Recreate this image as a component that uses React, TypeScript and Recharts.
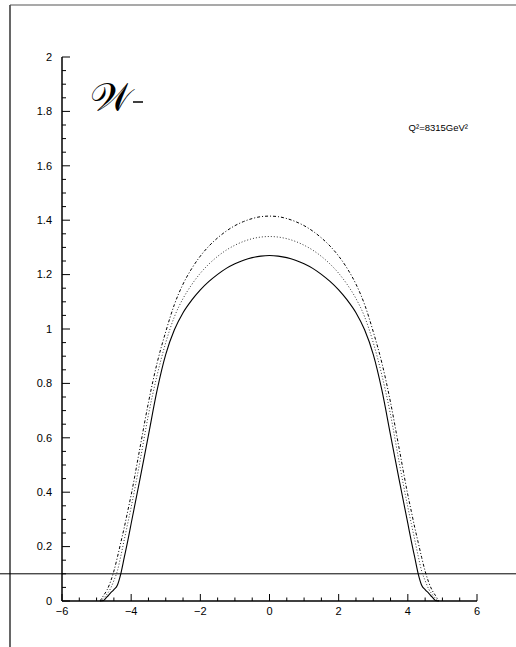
import { LineChart, Line, XAxis, YAxis, ReferenceLine } from "recharts"

// rapidity grid
const rapidity = [
  -4.9, -4.8, -4.7, -4.6, -4.5, -4.4, -4.3, -4.2, -4.1, -4, -3.75, -3.5, -3.25,
  -3, -2.75, -2.5, -2.25, -2, -1.75, -1.5, -1.25, -1, -0.75, -0.5, -0.25, 0,
  0.25, 0.5, 0.75, 1, 1.25, 1.5, 1.75, 2, 2.25, 2.5, 2.75, 3, 3.25, 3.5, 3.75,
  4, 4.1, 4.2, 4.3, 4.4, 4.5, 4.6, 4.7, 4.8, 4.9,
]

const solid = [
  0, 0.002, 0.015, 0.029, 0.042, 0.058, 0.1, 0.16, 0.22, 0.285, 0.445, 0.61, 0.775,
  0.907, 0.997, 1.06, 1.106, 1.144, 1.175, 1.201, 1.223, 1.24, 1.253, 1.2625, 1.268, 1.27,
  1.268, 1.2625, 1.253, 1.24, 1.223, 1.201, 1.175, 1.144, 1.106, 1.06, 0.997, 0.907, 0.775, 0.61, 0.445,
  0.285, 0.22, 0.16, 0.1, 0.058, 0.042, 0.029, 0.015, 0.002, 0,
]

const dotted = [
  0, 0.01, 0.025, 0.045, 0.075, 0.11, 0.165, 0.225, 0.285, 0.345, 0.51, 0.685, 0.83,
  0.95, 1.045, 1.112, 1.163, 1.205, 1.239, 1.267, 1.29, 1.308, 1.322, 1.332, 1.338, 1.34,
  1.338, 1.332, 1.322, 1.308, 1.29, 1.267, 1.239, 1.205, 1.163, 1.112, 1.045, 0.95, 0.83, 0.685, 0.51,
  0.345, 0.285, 0.225, 0.165, 0.11, 0.075, 0.045, 0.025, 0.01, 0,
]

const dashDot = [
  0, 0.02, 0.04, 0.07, 0.11, 0.16, 0.215, 0.27, 0.33, 0.39, 0.56, 0.73, 0.875,
  0.99, 1.09, 1.165, 1.222, 1.268, 1.305, 1.335, 1.36, 1.38, 1.395, 1.406, 1.413, 1.415,
  1.413, 1.406, 1.395, 1.38, 1.36, 1.335, 1.305, 1.268, 1.222, 1.165, 1.09, 0.99, 0.875, 0.73, 0.56,
  0.39, 0.33, 0.27, 0.215, 0.16, 0.11, 0.07, 0.04, 0.02, 0,
]

const xTicks = [
  -6, -5.5, -5, -4.5, -4, -3.5, -3, -2.5, -2, -1.5, -1, -0.5, 0, 0.5, 1, 1.5, 2,
  2.5, 3, 3.5, 4, 4.5, 5, 5.5, 6,
]

const yTicks = [
  0, 0.05, 0.1, 0.15, 0.2, 0.25, 0.3, 0.35, 0.4, 0.45, 0.5, 0.55, 0.6, 0.65, 0.7,
  0.75, 0.8, 0.85, 0.9, 0.95, 1, 1.05, 1.1, 1.15, 1.2, 1.25, 1.3, 1.35, 1.4, 1.45,
  1.5, 1.55, 1.6, 1.65, 1.7, 1.75, 1.8, 1.85, 1.9, 1.95, 2,
]

const cutLevel = 0.1
const processLabel = "\u{1D4B2}"
const scaleLabel = "Q²=8315GeV²"

const data = rapidity.map((y, i) => ({
  y,
  solid: solid[i],
  dotted: dotted[i],
  dashDot: dashDot[i],
}))

const font = "'Liberation Sans', Arial, Helvetica, sans-serif"

const isMult = (v: number, step: number) => Math.abs(v / step - Math.round(v / step)) < 1e-6

function XTick(props: any) {
  const { x, y, payload } = props
  const v = payload.value
  const major = isMult(v, 2)
  return (
    <g>
      <line x1={x} x2={x} y1={y} y2={y - (major ? 7 : 3.5)} stroke="#000" />
      {major && (
        <text x={x} y={y + 13.5} textAnchor="middle" fontSize={11} fontFamily={font} fill="#000">
          {v < 0 ? "\u2212" + Math.abs(v) : String(v)}
        </text>
      )}
    </g>
  )
}

function YTick(props: any) {
  const { x, y, payload } = props
  const v = payload.value
  const major = isMult(v, 0.2)
  const ax = x + 10
  return (
    <g>
      <line x1={ax} x2={ax + (major ? 8 : 4)} y1={y} y2={y} stroke="#000" />
      {major && (
        <text x={x} y={y + 3.8} textAnchor="end" fontSize={11} fontFamily={font} fill="#000">
          {String(Math.round(v * 10) / 10)}
        </text>
      )}
    </g>
  )
}

export default function App() {
  return (
    <div style={{ position: "absolute", left: 0, top: 0, width: 516, height: 647, background: "#fff" }}>
      <LineChart
        width={516}
        height={647}
        data={data}
        margin={{ top: 57, right: 39, bottom: 16, left: 0 }}
      >
        <XAxis
          dataKey="y"
          type="number"
          domain={[-6, 6]}
          ticks={xTicks}
          interval={0}
          tickSize={0}
          tickMargin={0}
          tick={<XTick />}
          axisLine={{ stroke: "#000", strokeWidth: 1.5 }}
          height={30}
        />
        <XAxis
          xAxisId="top"
          orientation="top"
          dataKey="y"
          type="number"
          domain={[-6, 6]}
          tick={false}
          tickLine={false}
          axisLine={{ stroke: "#666", strokeWidth: 2 }}
          height={0}
        />
        <YAxis
          type="number"
          domain={[0, 2]}
          ticks={yTicks}
          interval={0}
          tickSize={0}
          tickMargin={10}
          tick={<YTick />}
          axisLine={{ stroke: "#000", strokeWidth: 1.5 }}
          width={62}
        />
        <YAxis
          yAxisId="right"
          orientation="right"
          type="number"
          domain={[0, 2]}
          tick={false}
          tickLine={false}
          axisLine={{ stroke: "#777", strokeWidth: 2 }}
          width={0}
        />
        <ReferenceLine
          y={cutLevel}
          shape={(p: any) => <line x1={0} x2={516} y1={p.y1} y2={p.y1} stroke="#000" strokeWidth={1} />}
        />
        <Line
          type="monotone"
          dataKey="dashDot"
          stroke="#000"
          strokeWidth={1}
          strokeDasharray="3 2 1 2"
          dot={false}
          isAnimationActive={false}
        />
        <Line
          type="monotone"
          dataKey="dotted"
          stroke="#333"
          strokeWidth={1}
          strokeDasharray="1 2"
          dot={false}
          isAnimationActive={false}
        />
        <Line
          type="monotone"
          dataKey="solid"
          stroke="#000"
          strokeWidth={1.1}
          dot={false}
          isAnimationActive={false}
        />
      </LineChart>
      <svg
        width={516}
        height={647}
        style={{ position: "absolute", left: 0, top: 0, pointerEvents: "none" }}
      >
        <line x1={10} x2={10} y1={5} y2={647} stroke="#000" strokeWidth={1.2} />
        <line x1={10} x2={516} y1={5} y2={5} stroke="#555" strokeWidth={1.2} />
        <text x={90} y={111} fontSize={40} fontFamily="'DejaVu Serif', serif" fill="#000">
          {processLabel}
        </text>
        <line x1={133} x2={143} y1={102} y2={102} stroke="#000" strokeWidth={1.5} />
        <text x={468} y={131} textAnchor="end" fontSize={9.5} fontFamily={font} fill="#000">
          {scaleLabel}
        </text>
      </svg>
    </div>
  )
}
